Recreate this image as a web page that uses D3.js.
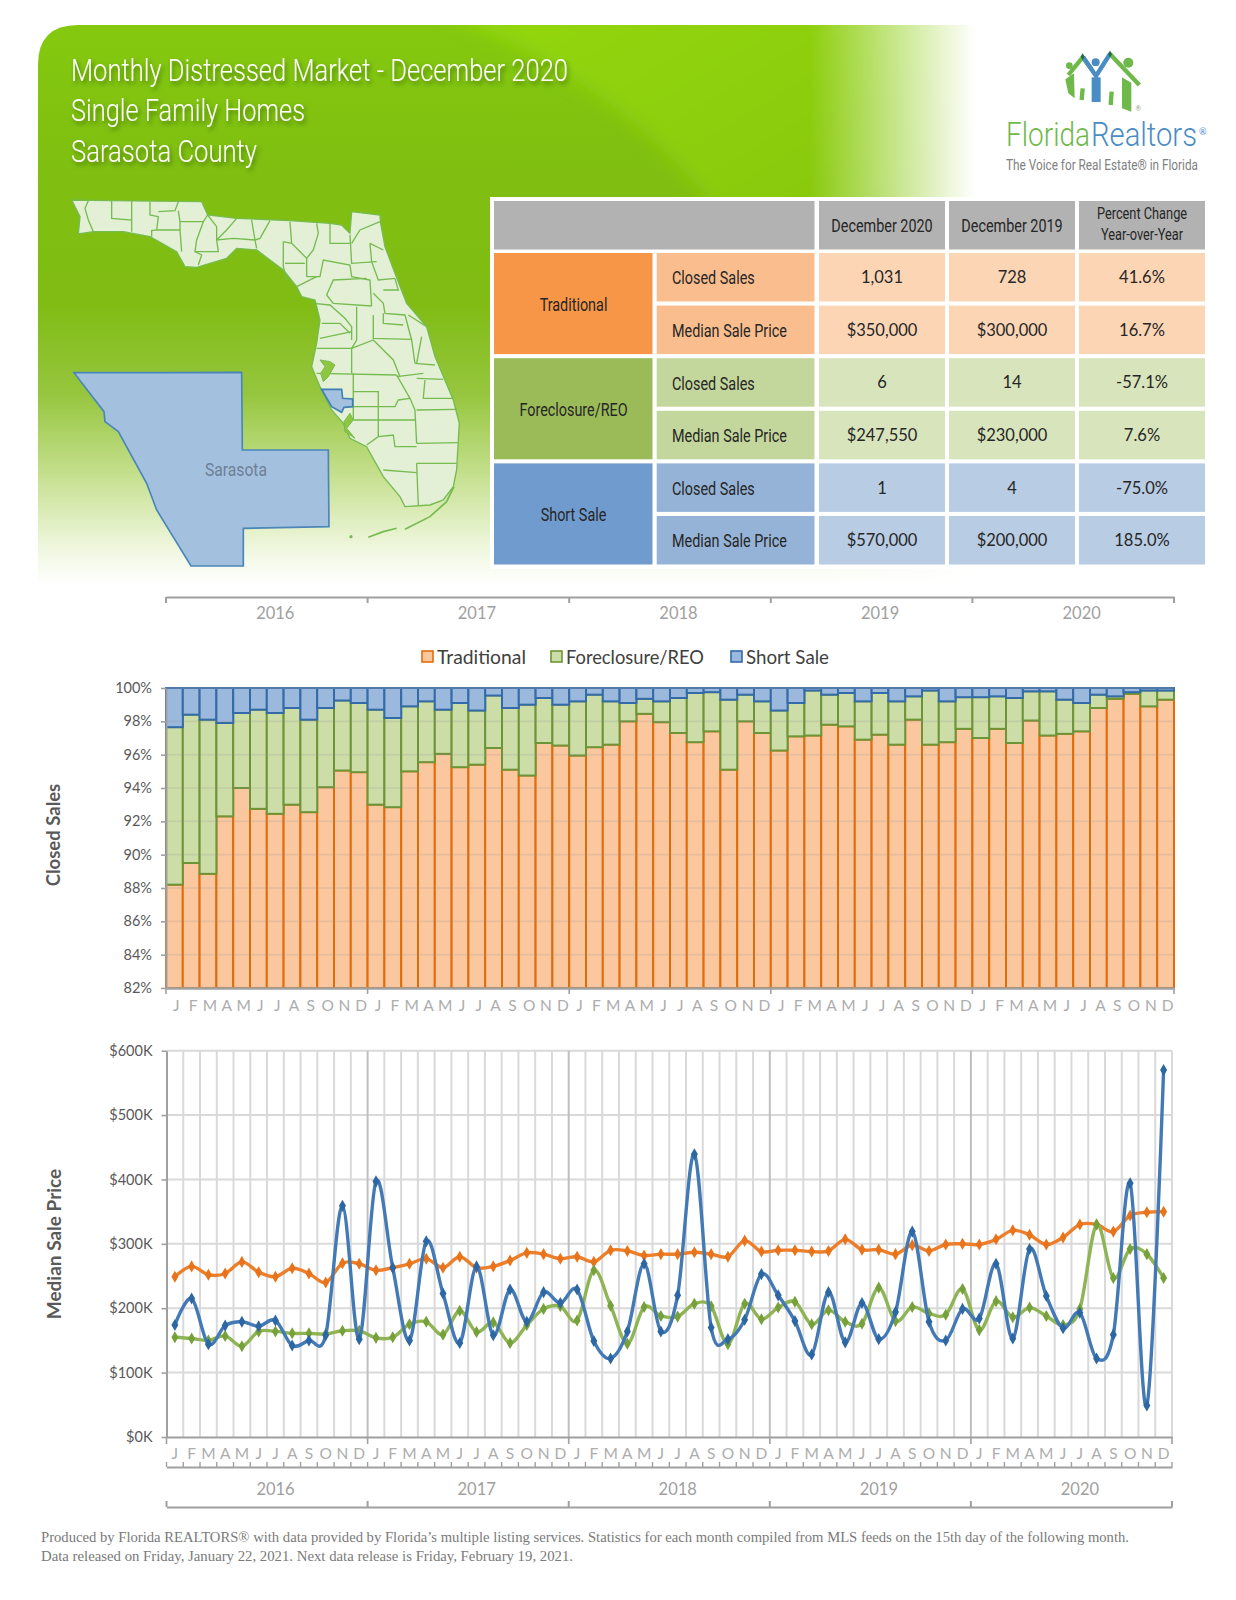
<!DOCTYPE html>
<html>
<head>
<meta charset="utf-8">
<title>Monthly Distressed Market - December 2020</title>
<script src="https://cdn.jsdelivr.net/npm/d3@7"></script>
<style>
  html, body { margin: 0; padding: 0; background: #fff; }
  svg { display: block; }
</style>
</head>
<body>
<div id="chart"></div>
<script>
// data
const years = ['2016', '2017', '2018', '2019', '2020'];
const monthLetters = ['J', 'F', 'M', 'A', 'M', 'J', 'J', 'A', 'S', 'O', 'N', 'D'];
const seriesNames = ['Traditional', 'Foreclosure/REO', 'Short Sale'];

const closedTraditional = [
  88.2, 89.5, 88.85, 92.3, 94.0, 92.75, 92.45, 93.0, 92.55, 94.05, 95.05, 94.95,
  93.0, 92.85, 95.0, 95.55, 96.05, 95.25, 95.4, 96.4, 95.1, 94.75, 96.7, 96.55,
  95.95, 96.45, 96.6, 98.0, 98.45, 97.95, 97.3, 96.75, 97.4, 95.1, 98.0, 97.3,
  96.25, 97.1, 97.15, 97.8, 97.7, 96.9, 97.2, 96.6, 98.1, 96.6, 96.75, 97.55,
  97.0, 97.55, 96.7, 98.05, 97.15, 97.25, 97.4, 98.8, 99.35, 99.65, 98.9, 99.3
];
const closedForeclosure = [
  9.45, 8.9, 9.25, 5.6, 4.5, 5.95, 6.05, 5.8, 5.55, 4.75, 4.2, 4.15,
  5.7, 5.35, 3.9, 3.65, 2.65, 3.85, 3.25, 3.15, 3.7, 4.25, 2.7, 2.45,
  3.25, 3.15, 2.6, 1.1, 0.9, 1.25, 2.1, 2.95, 2.35, 4.2, 1.6, 1.9,
  2.4, 2.0, 2.7, 1.8, 2.0, 2.3, 2.5, 2.6, 1.4, 3.25, 2.45, 1.9,
  2.45, 1.95, 2.7, 1.75, 2.65, 2.05, 1.7, 0.8, 0.15, 0.1, 0.95, 0.55
];
const closedShort = [
  2.35, 1.6, 1.9, 2.1, 1.5, 1.3, 1.5, 1.2, 1.9, 1.2, 0.75, 0.9,
  1.3, 1.8, 1.1, 0.8, 1.3, 0.9, 1.35, 0.45, 1.2, 1.0, 0.6, 1.0,
  0.8, 0.4, 0.8, 0.9, 0.65, 0.8, 0.6, 0.3, 0.25, 0.7, 0.4, 0.8,
  1.35, 0.9, 0.15, 0.4, 0.3, 0.8, 0.3, 0.8, 0.5, 0.15, 0.8, 0.55,
  0.55, 0.5, 0.6, 0.2, 0.2, 0.7, 0.9, 0.4, 0.5, 0.25, 0.15, 0.15
];

const priceTraditional = [
  249, 265, 252, 254, 272, 256, 249, 262, 254, 240, 270, 269,
  259, 263, 269, 277, 263, 280, 263, 265, 274, 286, 284, 277,
  280, 272, 290, 289, 282, 284, 284, 287, 284, 280, 305, 288,
  290, 290, 288, 289, 307, 291, 291, 284, 298, 289, 299, 300,
  299, 307, 321, 314, 299, 310, 330, 330, 319, 344, 349, 350
];
const priceForeclosure = [
  155, 153, 150, 157, 141, 164, 164, 161, 161, 160, 165, 165,
  154, 155, 175, 179, 159, 196, 163, 178, 146, 174, 199, 203,
  181, 259, 204, 145, 202, 188, 187, 207, 203, 144, 207, 183,
  201, 210, 175, 197, 179, 176, 232, 180, 202, 192, 190, 230,
  166, 211, 186, 201, 188, 174, 199, 330, 247, 292, 284, 247
];
const priceShort = [
  174, 215, 144, 173, 179, 172, 181, 142, 150, 158, 359, 152,
  397, 263, 150, 304, 223, 146, 265, 158, 229, 179, 225, 208,
  229, 149, 122, 164, 269, 164, 220, 439, 170, 152, 182, 253,
  220, 180, 128, 225, 147, 208, 152, 194, 319, 179, 150, 199,
  184, 269, 153, 292, 219, 169, 193, 122, 159, 394, 49, 570
];

const closedTicks = [82, 84, 86, 88, 90, 92, 94, 96, 98, 100];
const priceTicks = [0, 100, 200, 300, 400, 500, 600];

const tableHeaders = ['December 2020', 'December 2019'];
const tableMetrics = ['Closed Sales', 'Median Sale Price'];
const tableDec2020 = ['1,031', '$350,000', '6', '$247,550', '1', '$570,000'];
const tableDec2019 = ['728', '$300,000', '14', '$230,000', '4', '$200,000'];
const tableChange = ['41.6%', '16.7%', '-57.1%', '7.6%', '-75.0%', '185.0%'];

const titleLines = ['Monthly Distressed Market - December 2020', 'Single Family Homes', 'Sarasota County'];
const footerLines = [
  'Produced by Florida REALTORS\u00AE with data provided by Florida\u2019s multiple listing services. Statistics for each month compiled from MLS feeds on the 15th day of the following month.',
  'Data released on Friday, January 22, 2021. Next data release is Friday, February 19, 2021.'
];

// map shapes, in the map group's own units
const floridaOutline = [[125,60],[240,62],[515,65],[533,105],[620,115],[780,122],[900,130],[935,135],[960,160],[965,95],[1050,105],[1052,130],[1065,200],[1095,280],[1130,370],[1190,440],[1215,530],[1270,660],[1288,730],[1280,870],[1270,920],[1240,960],[1200,975],[1125,980],[1110,950],[1060,890],[1010,800],[960,775],[940,730],[905,690],[870,620],[845,560],[860,490],[870,420],[855,360],[815,350],[800,320],[760,270],[680,210],[620,205],[590,235],[500,262],[465,260],[440,215],[360,170],[280,155],[190,155],[145,162],[150,110]];
const countyLines = [
  [[175,62],[165,85],[175,120],[190,155]], [[245,62],[245,115],[305,120],[305,155]], [[305,62],[305,120]],
  [[360,65],[360,105],[385,110],[380,150],[365,152],[365,170]], [[385,95],[435,92],[445,65]], [[445,92],[450,125],[520,125],[533,105]],
  [[380,150],[450,150],[455,215]], [[450,125],[450,150]], [[520,125],[500,180],[495,215],[565,215],[560,180]], [[495,215],[515,225],[505,255]],
  [[533,105],[560,140],[560,180],[610,175],[675,180],[680,205]], [[620,115],[590,150],[560,180]], [[665,120],[670,150],[675,180]], [[720,122],[690,175],[675,180]],
  [[780,125],[785,190],[830,235],[830,290]], [[860,130],[865,160],[850,210],[830,235]], [[900,130],[900,190],[960,190]], [[960,165],[965,250],[1040,245]],
  [[1050,125],[990,150],[965,190]], [[1020,190],[1060,210]], [[1020,190],[1025,245],[1045,300],[1095,295]], [[760,185],[785,190]], [[760,185],[760,260],[770,300]], [[765,250],[825,250]],
  [[830,290],[870,290],[880,240],[960,255],[965,290],[1020,300],[1025,378]], [[800,320],[860,290]], [[890,345],[910,300],[1010,295]], [[890,345],[910,370],[1025,378]],
  [[850,370],[900,375],[945,415],[965,440],[965,480]], [[875,430],[930,430],[960,460]], [[870,475],[965,455]], [[860,505],[965,505],[965,580]], [[980,380],[980,480],[965,505]],
  [[1030,340],[1060,370],[1065,400],[1125,405],[1145,480],[1155,550]], [[1030,405],[1030,475],[1145,478]], [[1060,400],[1060,430],[1120,435]], [[965,505],[1030,480],[1090,540],[1110,590]],
  [[860,580],[1100,585]], [[1100,585],[1140,655],[1155,690],[1160,790]], [[1155,550],[1215,555]], [[1160,595],[1240,598]], [[1185,600],[1180,655],[1270,655]],
  [[1160,690],[1280,688]], [[1160,790],[1285,788]], [[1160,850],[1280,850]], [[1160,850],[1165,975]], [[970,635],[1045,635],[1045,720]], [[968,680],[1095,680],[1105,660],[1140,655]],
  [[970,720],[1155,720]], [[1045,720],[1045,770],[1010,795]], [[1045,770],[1090,765],[1095,800],[1160,800]], [[1060,870],[1160,878]], [[970,580],[970,720]],
  [[1095,295],[1105,330],[1060,330]], [[1135,405],[1190,440]], [[1175,470],[1160,550]], [[1100,590],[1180,580]]
];
const waterShapes = [
  [[870,540],[900,545],[915,555],[895,590],[880,605],[872,580],[885,560]],
  [[960,700],[970,720],[950,745],[975,775],[945,755],[942,725]]
];
const keysLines = [[[1015,1072],[1060,1055],[1100,1045]], [[1125,1048],[1200,1010],[1250,965],[1272,920]]];
const sarasotaSmall = [[875,628],[935,628],[938,655],[968,657],[968,680],[942,682],[935,697],[905,680]];
const sarasotaBig = [[132,578],[380,578],[635,577],[637,810],[895,810],[897,1040],[640,1045],[640,1158],[483,1158],[380,990],[350,910],[265,755],[225,725],[222,695]];

// logo shapes, in the logo group's own units
const logoGreenLines = [[[205,105],[248,52],[275,88]], [[330,42],[418,135]], [[248,145],[245,180]], [[335,155],[332,195]]];
const logoBlueLines = [[[250,52],[288,108],[330,42]]];
const logoGreenBodies = [[[196,118],[222,100],[224,175],[205,160]], [[366,112],[394,128],[394,215],[366,205]]];

const sansNarrow = 'Roboto, sans-serif';
const sans = 'Lato, "Open Sans", sans-serif';
const axisGrey = '#a0a0a0';
const labelGrey = '#595959';
const monthCount = years.length * 12;
const months = d3.range(monthCount);
const monthLabel = (i) => monthLetters[i % 12];

const svg = d3.select('#chart').append('svg')
    .attr('width', 1236)
    .attr('height', 1600)
    .attr('viewBox', '0 0 1236 1600');
const defs = svg.append('defs');

// header background
const drawBackground = () => {
  const vertical = defs.append('linearGradient')
      .attr('id', 'panelFill')
      .attr('x1', 0).attr('x2', 0).attr('y1', 0).attr('y2', 1);
  [[0, '#84c90f'], [0.22, '#80c010'], [0.5, '#80bc14'], [0.66, '#96c63f'],
    [0.8, '#c4df8c'], [0.93, '#eef6dc'], [1, '#ffffff']].forEach(([o, c]) => {
    vertical.append('stop').attr('offset', o).attr('stop-color', c);
  });
  const fade = defs.append('linearGradient')
      .attr('id', 'panelFade')
      .attr('gradientUnits', 'userSpaceOnUse')
      .attr('x1', 810).attr('x2', 975).attr('y1', 0).attr('y2', 0);
  fade.append('stop').attr('offset', 0).attr('stop-color', '#fff');
  fade.append('stop').attr('offset', 1).attr('stop-color', '#000');
  defs.append('mask').attr('id', 'panelMask')
      .attr('maskUnits', 'userSpaceOnUse')
      .attr('x', 0).attr('y', 0).attr('width', 1236).attr('height', 600)
      .append('rect').attr('width', 1236).attr('height', 600).attr('fill', 'url(#panelFade)');
  const shine = defs.append('linearGradient')
      .attr('id', 'shineFill')
      .attr('x1', 0).attr('x2', 1).attr('y1', 0).attr('y2', 0.6);
  shine.append('stop').attr('offset', 0).attr('stop-color', '#94d80f');
  shine.append('stop').attr('offset', 1).attr('stop-color', '#88c80e');
  defs.append('clipPath').attr('id', 'panelClip')
      .append('path').attr('d', 'M38,585 L38,65 Q38,25 78,25 L980,25 L980,585 Z');
  defs.append('filter').attr('id', 'shineBlur')
      .attr('x', '-10%').attr('y', '-10%').attr('width', '120%').attr('height', '120%')
      .append('feGaussianBlur').attr('stdDeviation', 9);

  const panel = svg.append('g').attr('mask', 'url(#panelMask)');
  panel.append('path')
      .attr('d', 'M38,585 L38,65 Q38,25 78,25 L980,25 L980,585 Z')
      .attr('fill', 'url(#panelFill)');
  panel.append('g').attr('clip-path', 'url(#panelClip)')
      .append('path')
      .attr('d', 'M440,10 C560,60 650,120 720,215 L1000,215 L1000,10 Z')
      .attr('fill', 'url(#shineFill)')
      .attr('filter', 'url(#shineBlur)');
};

const drawTitle = () => {
  const shadow = defs.append('filter').attr('id', 'titleShadow')
      .attr('x', '-5%').attr('y', '-30%').attr('width', '110%').attr('height', '170%');
  shadow.append('feDropShadow')
      .attr('dx', 2).attr('dy', 3).attr('stdDeviation', 2)
      .attr('flood-color', '#2f5a00').attr('flood-opacity', 0.7);
  const widths = [497, 234, 186];
  svg.append('g').selectAll('text').data(titleLines).join('text')
      .attr('x', 71)
      .attr('y', (d, i) => 81 + i * 40.3)
      .attr('font-family', sansNarrow)
      .attr('font-weight', 300)
      .attr('font-size', 31)
      .attr('fill', '#ffffff')
      .attr('filter', 'url(#titleShadow)')
      .attr('textLength', (d, i) => widths[i])
      .attr('lengthAdjust', 'spacingAndGlyphs')
      .text((d) => d);
};

const drawMap = () => {
  const line = d3.line();
  const closed = (pts) => line(pts) + 'Z';
  const g = svg.append('g').attr('transform', 'translate(30,180) scale(0.3333)');
  g.append('path').attr('d', closed(floridaOutline))
      .attr('fill', '#e3f0d6').attr('stroke', '#76bb50').attr('stroke-width', 4);
  g.append('g').selectAll('path').data(countyLines).join('path')
      .attr('d', line).attr('fill', 'none')
      .attr('stroke', '#76bb50').attr('stroke-width', 4);
  g.append('g').selectAll('path').data(waterShapes).join('path')
      .attr('d', closed).attr('fill', '#8fc640').attr('stroke', '#76bb50').attr('stroke-width', 3);
  g.append('g').selectAll('path').data(keysLines).join('path')
      .attr('d', line).attr('fill', 'none')
      .attr('stroke', '#76bb50').attr('stroke-width', 5);
  g.append('circle').attr('cx', 963).attr('cy', 1070).attr('r', 5).attr('fill', '#76bb50');
  g.append('path').attr('d', closed(sarasotaSmall))
      .attr('fill', '#a3c1de').attr('stroke', '#3f7fb5').attr('stroke-width', 5);
  g.append('path').attr('d', closed(sarasotaBig))
      .attr('fill', '#a3c1de').attr('stroke', '#4a86b8').attr('stroke-width', 5);
  svg.append('text')
      .attr('x', 205).attr('y', 476)
      .attr('font-family', sansNarrow).attr('font-size', 18)
      .attr('fill', '#6f7f96')
      .attr('textLength', 62).attr('lengthAdjust', 'spacingAndGlyphs')
      .text('Sarasota');
};

const drawLogo = () => {
  const line = d3.line();
  const green = '#6fb84a';
  const blue = '#4a8cc4';
  const g = svg.append('g').attr('transform', 'translate(1000,40) scale(0.3333)');
  g.selectAll('path.green').data(logoGreenLines).join('path')
      .attr('class', 'green').attr('d', line).attr('fill', 'none')
      .attr('stroke', green).attr('stroke-width', 13);
  g.selectAll('path.blue').data(logoBlueLines).join('path')
      .attr('class', 'blue').attr('d', line).attr('fill', 'none')
      .attr('stroke', blue).attr('stroke-width', 13);
  g.selectAll('path.body').data(logoGreenBodies).join('path')
      .attr('class', 'body').attr('d', (d) => line(d) + 'Z').attr('fill', green);
  g.append('rect').attr('x', 275).attr('y', 112).attr('width', 27).attr('height', 74).attr('fill', blue);
  g.append('circle').attr('cx', 208).attr('cy', 77).attr('r', 10).attr('fill', green);
  g.append('circle').attr('cx', 287).attr('cy', 67).attr('r', 12).attr('fill', blue);
  g.append('circle').attr('cx', 385).attr('cy', 68).attr('r', 15).attr('fill', green);
  [[248, 50], [330, 42]].forEach(([x, y]) => {
    g.append('path')
        .attr('d', d3.symbol(d3.symbolDiamond, 120)())
        .attr('transform', `translate(${x},${y})`)
        .attr('fill', '#1f6b4a');
  });
  g.append('text').attr('x', 415).attr('y', 212)
      .attr('text-anchor', 'middle').attr('font-size', 20)
      .attr('font-family', sans).attr('fill', '#8aa27a').text('\u00AE');

  // squeeze each word to its measured width so the two words sit side by side
  const brand = (x, width, color, str) => {
    const word = svg.append('text')
        .attr('font-family', sansNarrow).attr('font-weight', 300).attr('font-size', 34)
        .attr('fill', color)
        .text(str);
    const natural = word.node().getComputedTextLength();
    word.attr('transform', `translate(${x},146) scale(${width / natural},1)`);
  };
  brand(1006, 84, green, 'Florida');
  brand(1091, 106, blue, 'Realtors');
  svg.append('text').attr('x', 1199).attr('y', 135)
      .attr('font-family', sans).attr('font-size', 9).attr('fill', blue).text('\u00AE');
  svg.append('text').attr('x', 1006).attr('y', 170)
      .attr('font-family', sansNarrow).attr('font-size', 14).attr('fill', '#808080')
      .attr('textLength', 192).attr('lengthAdjust', 'spacingAndGlyphs')
      .text('The Voice for Real Estate\u00AE in Florida');
};

const drawTable = () => {
  const rowStep = 52.6;
  const rowH = 48.5;
  const top = 253;
  const palettes = [
    {group: '#f79646', metric: '#fabe8e', value: '#fcd5b5'},
    {group: '#9bbb59', metric: '#c3d69b', value: '#d8e4bc'},
    {group: '#6f9bce', metric: '#95b3d7', value: '#b8cce4'}
  ];
  const valueCols = [{x: 819, w: 126}, {x: 949, w: 126}, {x: 1079, w: 126}];
  const g = svg.append('g');
  const rect = (x, y, w, h, fill) => g.append('rect')
      .attr('x', x).attr('y', y).attr('width', w).attr('height', h).attr('fill', fill);
  // condensed labels: no narrow face is installed, so squeeze the text horizontally
  const narrow = (x, y, str, anchor, size) => g.append('text')
      .attr('transform', `translate(${x},${y}) scale(0.8,1)`)
      .attr('text-anchor', anchor).attr('dominant-baseline', 'central')
      .attr('font-family', sansNarrow).attr('font-size', size).attr('fill', '#262626')
      .text(str);
  const value = (x, y, str) => g.append('text')
      .attr('x', x).attr('y', y)
      .attr('text-anchor', 'middle').attr('dominant-baseline', 'central')
      .attr('font-family', sans).attr('font-size', 16.5).attr('fill', '#262626')
      .text(str);

  rect(490, 197, 716, 372, '#ffffff');
  rect(494, 201, 320.5, 48.5, '#b2b2b2');
  valueCols.forEach((c) => rect(c.x, 201, c.w, 48.5, '#b2b2b2'));
  tableHeaders.forEach((h, i) => narrow(valueCols[i].x + valueCols[i].w / 2, 225.5, h, 'middle', 18));
  narrow(1142, 214.5, 'Percent Change', 'middle', 16);
  narrow(1142, 235.5, 'Year-over-Year', 'middle', 16);

  seriesNames.forEach((name, s) => {
    const pal = palettes[s];
    const y0 = top + s * 2 * rowStep;
    rect(494, y0, 158.5, rowStep + rowH, pal.group);
    narrow(573.5, y0 + (rowStep + rowH) / 2 + 1, name, 'middle', 18);
    tableMetrics.forEach((metric, m) => {
      const y = y0 + m * rowStep;
      const idx = s * 2 + m;
      rect(656.7, y, 157.8, rowH, pal.metric);
      narrow(672, y + rowH / 2 + 1, metric, 'start', 18);
      [tableDec2020, tableDec2019, tableChange].forEach((col, c) => {
        rect(valueCols[c].x, y, valueCols[c].w, rowH, pal.value);
        value(valueCols[c].x + valueCols[c].w / 2, y + rowH / 2, col[idx]);
      });
    });
  });
};

// bracket axis with a year label in each span
const drawYearBracket = (x, y, tickDir, labelY) => {
  const yearScale = d3.scaleBand(years, x.range());
  const g = svg.append('g')
      .attr('transform', `translate(0,${y})`)
      .call(d3.axisBottom(yearScale).tickValues([]).tickSize(0).tickSizeOuter(0));
  g.select('.domain').attr('stroke', axisGrey).attr('stroke-width', 2);
  g.selectAll('line.year').data(d3.range(years.length + 1)).join('line')
      .attr('class', 'year')
      .attr('x1', (i) => x.range()[0] + i * yearScale.bandwidth())
      .attr('x2', (i) => x.range()[0] + i * yearScale.bandwidth())
      .attr('y1', 0).attr('y2', tickDir)
      .attr('stroke', axisGrey).attr('stroke-width', 2);
  svg.append('g').selectAll('text').data(years).join('text')
      .attr('x', (d) => yearScale(d) + yearScale.bandwidth() / 2 + 8.5)
      .attr('y', labelY)
      .attr('text-anchor', 'middle').attr('dominant-baseline', 'central')
      .attr('font-family', sans).attr('font-size', 16.5).attr('fill', '#a0a0a0')
      .text((d) => d);
};

const drawLegend = () => {
  const items = [
    {x: 421, width: 89, fill: '#fbc79e', stroke: '#e46c0a'},
    {x: 550, width: 138, fill: '#cddda8', stroke: '#6e9438'},
    {x: 730, width: 83, fill: '#9bb9dc', stroke: '#336aa8'}
  ];
  const g = svg.append('g');
  g.selectAll('rect').data(items).join('rect')
      .attr('x', (d) => d.x + 1).attr('y', 651)
      .attr('width', 11).attr('height', 11)
      .attr('fill', (d) => d.fill).attr('stroke', (d) => d.stroke).attr('stroke-width', 1.6);
  g.selectAll('text').data(items).join('text')
      .attr('x', (d) => d.x + 16).attr('y', 656.5)
      .attr('dominant-baseline', 'central')
      .attr('font-family', sans).attr('font-size', 19).attr('fill', '#404040')
      .attr('textLength', (d) => d.width).attr('lengthAdjust', 'spacingAndGlyphs')
      .text((d, i) => seriesNames[i]);
};

const styleValueAxis = (g) => {
  g.select('.domain').attr('stroke', axisGrey).attr('stroke-width', 2);
  g.selectAll('.tick line').attr('stroke', axisGrey).attr('stroke-width', 1.6);
  g.selectAll('.tick text')
      .attr('font-family', sans).attr('font-size', 14.5).attr('fill', labelGrey);
};

const drawMonthLabels = (x, y, shift) => {
  const g = svg.append('g')
      .attr('transform', `translate(0,${y})`)
      .call(d3.axisBottom(x).tickFormat(monthLabel).tickSize(0).tickPadding(0));
  g.select('.domain').remove();
  g.selectAll('.tick text')
      .attr('dx', shift).attr('dy', '0.32em').attr('y', 0)
      .attr('font-family', sans).attr('font-size', 15.5).attr('fill', '#adadad');
};

const yearBoundaries = (x) => d3.range(0, years.length + 1)
    .map((i) => x.range()[0] + i * 12 * x.step());

const axisTitle = (str, cy, size) => svg.append('text')
    .attr('transform', `translate(53,${cy}) rotate(-90)`)
    .attr('text-anchor', 'middle').attr('dominant-baseline', 'central')
    .attr('font-family', sans).attr('font-size', size).attr('font-weight', 700)
    .attr('fill', labelGrey)
    .text(str);

const drawClosedSales = () => {
  const x = d3.scaleBand(months, [166, 1174]);
  const y = d3.scaleLinear([82, 100], [988, 688]);
  const rows = months.map((i) => ({
    month: i,
    traditional: closedTraditional[i],
    foreclosure: closedForeclosure[i],
    short: closedShort[i]
  }));
  const stacked = d3.stack().keys(['traditional', 'foreclosure', 'short'])(rows);
  const fills = ['#fbc79e', '#cddda8', '#9bb9dc'];
  const strokes = ['#e36c0a', '#6e9438', '#336aa8'];

  drawYearBracket(x, 597, 6, 613);
  drawLegend();

  svg.append('g').selectAll('g').data(stacked).join('g')
      .attr('fill', (d, i) => fills[i])
      .attr('stroke', (d, i) => strokes[i])
      .attr('stroke-width', 2)
      .selectAll('rect').data((d) => d).join('rect')
      .attr('x', (d) => x(d.data.month))
      .attr('width', x.bandwidth())
      .attr('y', (d) => y(Math.min(d[1], 100)))
      .attr('height', (d) => y(Math.max(d[0], 82)) - y(Math.min(d[1], 100)));

  // gridlines show faintly through the bars
  svg.append('g').selectAll('line').data(closedTicks.slice(1, -1)).join('line')
      .attr('x1', x.range()[0]).attr('x2', x.range()[1])
      .attr('y1', y).attr('y2', y)
      .attr('stroke', '#8c8c8c').attr('stroke-opacity', 0.18).attr('stroke-width', 1.6);

  svg.append('g')
      .attr('transform', `translate(${x.range()[0]},0)`)
      .call(d3.axisLeft(y).tickValues(closedTicks).tickFormat((d) => d + '%').tickSize(5).tickSizeOuter(0).tickPadding(9))
      .call(styleValueAxis);
  const base = svg.append('g')
      .attr('transform', `translate(0,${y(82)})`)
      .call(d3.axisBottom(x).tickValues([]).tickSizeOuter(0));
  base.select('.domain').attr('stroke', axisGrey).attr('stroke-width', 2.4);
  base.selectAll('line.year').data(yearBoundaries(x)).join('line')
      .attr('class', 'year')
      .attr('x1', (d) => d).attr('x2', (d) => d).attr('y1', 0).attr('y2', 6)
      .attr('stroke', axisGrey).attr('stroke-width', 1.6);
  svg.append('line')
      .attr('x1', x.range()[0]).attr('x2', x.range()[1])
      .attr('y1', y(100)).attr('y2', y(100))
      .attr('stroke', '#5f7fa8').attr('stroke-width', 1.6);

  drawMonthLabels(x, 1006, 2);
  axisTitle('Closed Sales', 835, 18.5);
};

const drawMedianPrice = () => {
  const x = d3.scaleBand(months, [166.5, 1172]);
  const y = d3.scaleLinear([0, 600], [1437, 1050.7]);

  const grid = svg.append('g');
  grid.selectAll('line.h').data(priceTicks.slice(1)).join('line')
      .attr('class', 'h')
      .attr('x1', x.range()[0]).attr('x2', x.range()[1])
      .attr('y1', y).attr('y2', y)
      .attr('stroke', '#d9d9d9').attr('stroke-width', 2);
  grid.selectAll('line.v').data(d3.range(1, monthCount + 1)).join('line')
      .attr('class', 'v')
      .attr('x1', (i) => x.range()[0] + i * x.step())
      .attr('x2', (i) => x.range()[0] + i * x.step())
      .attr('y1', y(600)).attr('y2', y(0))
      .attr('stroke', (i) => (i % 12 === 0 && i < monthCount ? '#bfbfbf' : '#d9d9d9'))
      .attr('stroke-width', 2);

  svg.append('g')
      .attr('transform', `translate(${x.range()[0]},0)`)
      .call(d3.axisLeft(y).tickValues(priceTicks).tickFormat((d) => `$${d}K`).tickSize(5).tickSizeOuter(0).tickPadding(9))
      .call(styleValueAxis);
  const base = svg.append('g')
      .attr('transform', `translate(0,${y(0)})`)
      .call(d3.axisBottom(x).tickValues([]).tickSizeOuter(0));
  base.select('.domain').attr('stroke', axisGrey).attr('stroke-width', 2);
  base.selectAll('line.year').data(yearBoundaries(x)).join('line')
      .attr('class', 'year')
      .attr('x1', (d) => d).attr('x2', (d) => d).attr('y1', 0).attr('y2', 7)
      .attr('stroke', axisGrey).attr('stroke-width', 1.6);

  const center = (i) => x(i) + x.bandwidth() / 2;
  const path = d3.line()
      .x((d, i) => center(i))
      .y((d) => y(d))
      .curve(d3.curveCatmullRom.alpha(0));
  const lines = [
    {values: priceTraditional, stroke: '#ec7f2c', marker: '#e8731a'},
    {values: priceForeclosure, stroke: '#8fb455', marker: '#75a03a'},
    {values: priceShort, stroke: '#4379b5', marker: '#2d67a3'}
  ];
  const diamond = d3.symbol(d3.symbolDiamond, 42)();
  lines.forEach((s) => {
    const g = svg.append('g');
    g.append('path').attr('d', path(s.values))
        .attr('fill', 'none').attr('stroke', s.stroke).attr('stroke-width', 3.4);
    g.selectAll('path.marker').data(s.values).join('path')
        .attr('class', 'marker')
        .attr('d', diamond)
        .attr('transform', (d, i) => `translate(${center(i)},${y(d)})`)
        .attr('fill', s.marker);
  });

  drawMonthLabels(x, 1454, 0);

  const monthAxis = svg.append('g')
      .attr('transform', 'translate(0,1467)')
      .call(d3.axisBottom(x).tickValues([]).tickSizeOuter(0));
  monthAxis.select('.domain').attr('stroke', axisGrey).attr('stroke-width', 2);
  monthAxis.selectAll('line.month').data(d3.range(monthCount + 1)).join('line')
      .attr('class', 'month')
      .attr('x1', (i) => x.range()[0] + i * x.step())
      .attr('x2', (i) => x.range()[0] + i * x.step())
      .attr('y1', 0).attr('y2', -5)
      .attr('stroke', axisGrey).attr('stroke-width', 1.4);
  drawYearBracket(x, 1507, -6, 1489);

  axisTitle('Median Sale Price', 1244, 19);
};

const drawFooter = () => {
  const widths = [1088, 532];
  svg.append('g').selectAll('text').data(footerLines).join('text')
      .attr('x', 41)
      .attr('y', (d, i) => 1541.5 + i * 19)
      .attr('font-family', '"Liberation Serif", serif').attr('font-size', 14)
      .attr('fill', '#7a7a7a')
      .attr('textLength', (d, i) => widths[i])
      .attr('lengthAdjust', 'spacingAndGlyphs')
      .text((d) => d);
};

drawBackground();
drawTitle();
drawMap();
drawLogo();
drawTable();
drawClosedSales();
drawMedianPrice();
drawFooter();
</script>
</body>
</html>
